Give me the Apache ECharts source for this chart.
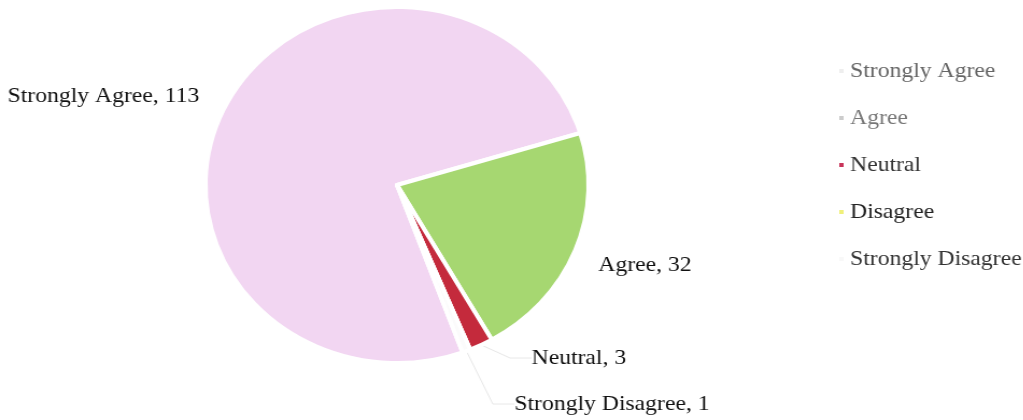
<!DOCTYPE html>
<html>
<head>
<meta charset="utf-8">
<script src="https://cdn.jsdelivr.net/npm/echarts@6/dist/echarts.min.js"></script>
<style>
  html, body { margin: 0; padding: 0; background: #fff; overflow: hidden; }
  /* the source picture is a little stretched sideways, so the chart is too */
  #main { width: 951px; height: 420px; transform: scaleX(1.076); transform-origin: 0 0; }
</style>
</head>
<body>
<div id="main"></div>
<script>
var categories = ["Strongly Agree", "Agree", "Neutral", "Disagree", "Strongly Disagree"];
var counts = [113, 32, 3, 0, 1];
var sliceColors = ["#f2d6f2", "#a6d771", "#c42a3c", "#eeee88", "#fbfbfb"];
var legendColors = ["#eeeeee", "#cccccc", "#c8345a", "#f0f07a", "#f8f8f8"];
var legendTextColors = ["#666", "#777", "#333", "#222", "#333"];
var withLine = ["Neutral", "Strongly Disagree"];
// where each label sits (left edge, middle)
var labelSpots = {
  "Strongly Agree": [7, 96],
  "Agree": [556, 265],
  "Neutral": [494, 358],
  "Strongly Disagree": [478, 404],
};

var myChart = echarts.init(document.getElementById("main"));

var pieData = [];
categories.map((name, i) => {
  pieData.push({
    name: name,
    value: counts[i],
    itemStyle: { color: sliceColors[i] },
    label: { show: counts[i] > 0 },
    labelLine: { show: withLine.indexOf(name) >= 0 },
  });
});

var legendData = categories.map((name, i) => ({
  name: name,
  itemStyle: { color: legendColors[i] },
  textStyle: { color: legendTextColors[i] },
}));

option = {
  backgroundColor: "#fff",
  animation: false,
  legend: {
    orient: "vertical",
    left: 773,
    top: 55,
    itemGap: 25,
    itemWidth: 6,
    itemHeight: 6,
    icon: "rect",
    data: legendData,
    textStyle: {
      fontFamily: "Liberation Serif",
      fontSize: 22,
    },
  },
  series: [
    {
      type: "pie",
      center: [369, 185],
      radius: 178,
      startAngle: -70,
      avoidLabelOverlap: false,
      itemStyle: {
        borderColor: "#fff",
        borderWidth: 4,
      },
      label: {
        formatter: "{b}, {c}",
        color: "#111",
        fontFamily: "Liberation Serif",
        fontSize: 22,
      },
      labelLine: {
        length: 10,
        length2: 20,
        lineStyle: { color: "#e8e8e8", width: 1 },
      },
      labelLayout: function (params) {
        var name = categories[params.dataIndex];
        var spot = labelSpots[name];
        if (!spot) return {};
        return { x: spot[0], y: spot[1], align: "left", verticalAlign: "middle" };
      },
      data: pieData,
    },
  ],
};
myChart.setOption(option);
</script>
</body>
</html>
